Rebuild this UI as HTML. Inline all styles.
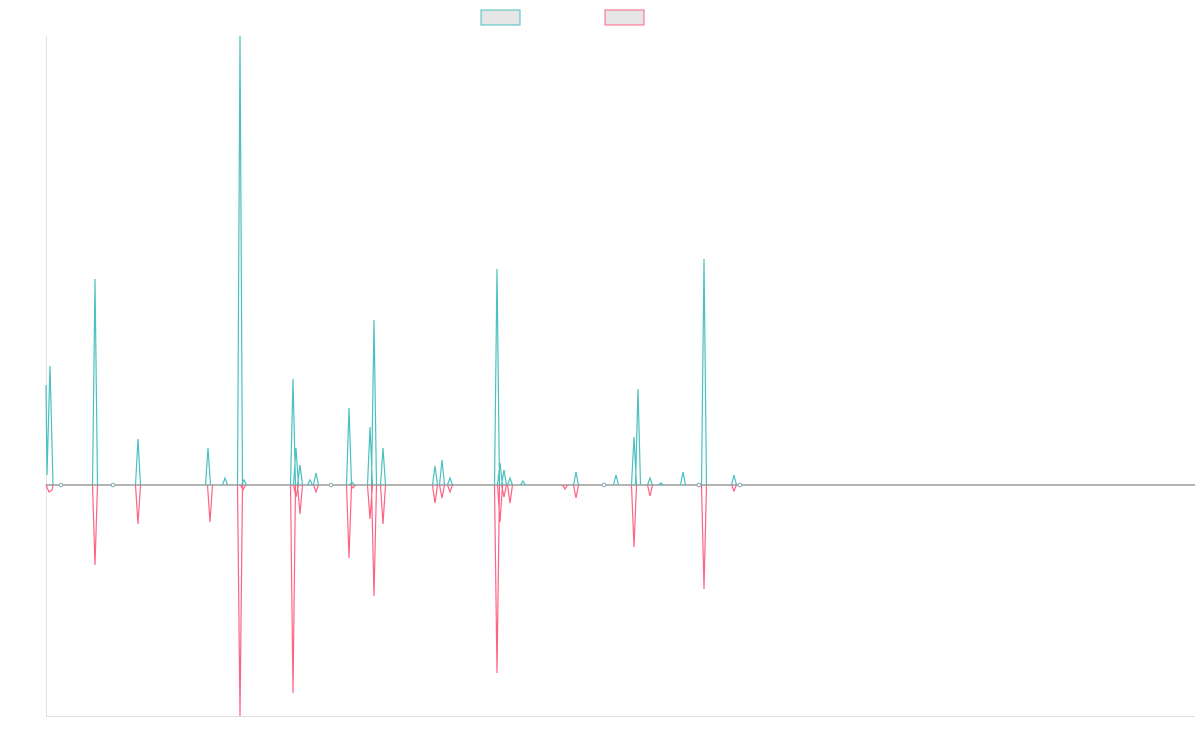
<!DOCTYPE html>
<html><head><meta charset="utf-8"><style>html,body{margin:0;background:#fff}svg{display:block}</style></head>
<body>
<svg id="s" width="1200" height="750" xmlns="http://www.w3.org/2000/svg">
<rect x="481" y="10" width="39" height="15" fill="#e6e6e6" stroke="#4bc0c0" stroke-width="1"/>
<rect x="605" y="10" width="39" height="15" fill="#e6e6e6" stroke="#ff6384" stroke-width="1"/>
<line x1="46.5" y1="36" x2="46.5" y2="716" stroke="#e0e0e0"/>
<line x1="46" y1="716.5" x2="1195" y2="716.5" stroke="#e0e0e0"/>
<line x1="46" y1="485" x2="1195" y2="485" stroke="#888" stroke-width="1.2"/>
<g id="t" fill="none" stroke="#4bc0c0" stroke-width="1.2"></g>
<g id="p" fill="none" stroke="#ff6384" stroke-width="1.2"></g>
<g fill="#fff" stroke="#7fa8b0" stroke-width="1">
<circle cx="61" cy="485" r="1.8"/><circle cx="113" cy="485" r="1.8"/><circle cx="331" cy="485" r="1.8"/>
<circle cx="604" cy="485" r="1.8"/><circle cx="699" cy="485" r="1.8"/><circle cx="740" cy="485" r="1.8"/>
</g>
</svg>
<script>
var T=[[95,279],[138,439],[208,448],[225,478],[240,36],[244,480],[293,379],[296,448],[300,465],[310,480],[316,473],[349,408],[352,482],[370,427],[374,320],[383,448],[435,466],[442,460],[450,478],[497,269],[500,463],[504,470],[510,478],[523,481],[576,472],[616,475],[634,437],[638,389],[650,478],[661,483],[683,472],[704,259],[734,475]];
var P=[[95,565],[138,524],[210,522],[240,716],[243,490],[293,693],[296,497],[300,514],[316,492],[349,558],[353,488],[370,519],[374,596],[383,524],[435,503],[442,498],[450,492],[497,673],[500,522],[504,497],[510,503],[565,489],[576,498],[634,547],[650,496],[704,589],[734,491]];
function draw(id,a,extra){var g=document.getElementById(id),d=extra;a.forEach(function(s){d+=" M"+(s[0]-2.5)+",485 L"+s[0]+","+s[1]+" L"+(s[0]+2.5)+",485";});
var p=document.createElementNS("http://www.w3.org/2000/svg","path");p.setAttribute("d",d);g.appendChild(p);}
draw("t",T,"M46,385 L47,475 L50,366 L53,485");
draw("p",P,"M46,485 L49,492 L52,490 L53,485");
</script>
</body></html>
